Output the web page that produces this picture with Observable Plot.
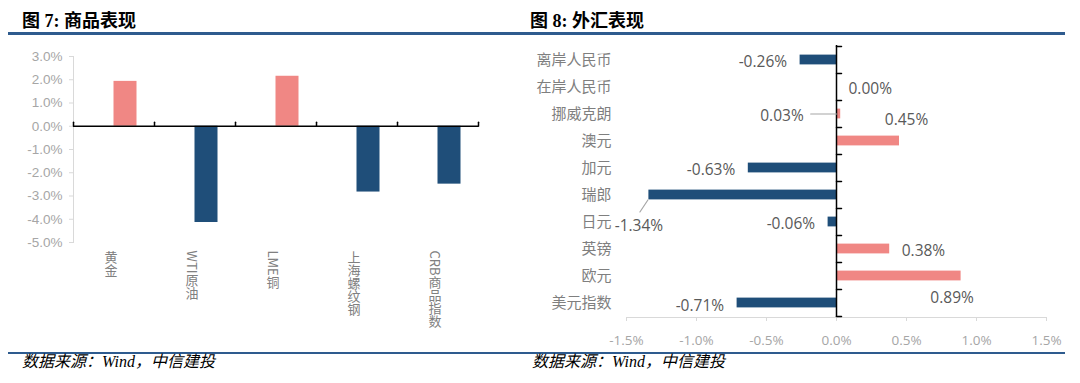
<!DOCTYPE html>
<html><head><meta charset="utf-8">
<script src="https://cdn.jsdelivr.net/npm/d3@7"></script>
<script src="https://cdn.jsdelivr.net/npm/@observablehq/plot@0.6"></script>
<style>
html,body{margin:0;padding:0;background:#fff}
body{width:1080px;height:383px;position:relative;overflow:hidden}
.title{position:absolute;top:12px;font:bold 18px/18px "Liberation Serif","Noto Sans CJK SC";color:#000;white-space:nowrap}
.rule{position:absolute;left:8px;width:1057px;background:#2E5B8E}
.src{position:absolute;top:354px;font:italic 16px/16px "Liberation Serif","Noto Sans CJK SC";color:#000;white-space:nowrap}
.panel{position:absolute;top:40px}
.panel svg{overflow:visible}
</style></head><body>
<div class="title" style="left:22px">图 7: 商品表现</div>
<div class="title" style="left:530px">图 8: 外汇表现</div>
<div class="rule" style="top:32px;height:3px"></div>
<div id="left" class="panel" style="left:0px;width:500px"></div>
<div id="right" class="panel" style="left:520px;width:560px"></div>
<div class="rule" style="top:352px;height:2px"></div>
<div class="src" style="left:22px">数据来源：Wind，中信建投</div>
<div class="src" style="left:532px">数据来源：Wind，中信建投</div>
<script>
// ---- data ----
const commodities = ["黄金", "WTI原油", "LME铜", "上海螺纹钢", "CRB商品指数"];
const commodityChange = [1.93, -4.14, 2.15, -2.83, -2.49];
const commodityTicks = [-5, -4, -3, -2, -1, 0, 1, 2, 3];

const fxNames = ["离岸人民币", "在岸人民币", "挪威克朗", "澳元", "加元", "瑞郎", "日元", "英镑", "欧元", "美元指数"];
const fxChange = [-0.26, 0.00, 0.03, 0.45, -0.63, -1.34, -0.06, 0.38, 0.89, -0.71];
const fxTicks = [-1.5, -1.0, -0.5, 0, 0.5, 1.0, 1.5];

// ---- styles ----
const PINK = "#F08784", BLUE = "#1F4E79";
const colorOf = v => v >= 0 ? PINK : BLUE;
const lineShape = {draw(context, l) { context.moveTo(0, 0); context.lineTo(0, -l); }};

// ---- left chart ----
const cRows = commodities.map((name, i) => ({name, value: commodityChange[i]}));
const L = {width: 500, height: 300, marginLeft: 73, marginRight: 22, marginTop: 16, marginBottom: 98};
const bwL = (L.width - L.marginLeft - L.marginRight) / commodities.length;
const edgeTick = {y: () => 0, length: 4, rotate: 0, anchor: "start", shape: lineShape, stroke: "#000", strokeWidth: 1.5};

const left = Plot.plot({
  ...L,
  x: {type: "band", domain: commodities, padding: 0, axis: null},
  y: {domain: [-5, 3], axis: null},
  color: {type: "identity"},
  marks: [
    Plot.frame({anchor: "left", stroke: "#d9d9d9"}),
    Plot.axisY({ticks: commodityTicks, tickSize: 4, stroke: "#d9d9d9", fill: "none", label: null}),
    Plot.text(commodityTicks, {y: d => d, text: d => d.toFixed(1) + "%", frameAnchor: "left", dx: -11,
      textAnchor: "end", fill: "#a6a6a6", fontSize: 13.5, fontFamily: "Liberation Sans"}),
    Plot.barY(cRows, {x: "name", y: "value", fill: d => colorOf(d.value),
      insetLeft: bwL / 2, insetRight: bwL / 2 - 23}),
    Plot.ruleY([0], {stroke: "#000", strokeWidth: 1.5}),
    Plot.vector(commodities, {x: d => d, dx: -bwL / 2, ...edgeTick}),
    Plot.vector(commodities.slice(-1), {x: d => d, dx: bwL / 2, ...edgeTick}),
    Plot.axisX({tickSize: 0, tickPadding: 8, dx: -3, fill: "#808080", fontSize: 13,
      fontFamily: "Noto Sans CJK SC", label: null})
  ]
});
left.querySelectorAll('[aria-label="x-axis tick label"] text').forEach(t => {
  t.removeAttribute("y"); t.removeAttribute("dy");
  t.setAttribute("text-anchor", "start");
  t.style.writingMode = "vertical-rl";
});
document.getElementById("left").appendChild(left);

// ---- right chart ----
const fRows = fxNames.map((name, i) => ({name, value: fxChange[i]}));
const R = {width: 560, height: 310, marginLeft: 106, marginRight: 34, marginTop: 5, marginBottom: 33};
const bwR = (R.height - R.marginTop - R.marginBottom) / fxNames.length;

// label placement (px offsets from bar end / band centre); leader: [dx, dy, length, angle]
const labelLayout = {
  "离岸人民币": {dx: -13, dy: 2, anchor: "end"},
  "在岸人民币": {dx: 12, dy: 2, anchor: "start"},
  "挪威克朗": {dx: -37, dy: 2, anchor: "end", leader: [-30, 0, 26, 90]},
  "澳元": {dx: 7, dy: -21, anchor: "middle"},
  "加元": {dx: -13, dy: 2, anchor: "end"},
  "瑞郎": {dx: -10, dy: 31, anchor: "middle", leader: [-1, 5, 14.4, 213.7]},
  "日元": {dx: -13, dy: 2.5, anchor: "end"},
  "英镑": {dx: 12, dy: 2.5, anchor: "start"},
  "欧元": {dx: -9, dy: 22, anchor: "middle"},
  "美元指数": {dx: -13, dy: 3, anchor: "end"}
};
const edgeTickR = {x: () => 0, length: 5, rotate: 90, anchor: "start", shape: lineShape, stroke: "#000", strokeWidth: 1.5};

const right = Plot.plot({
  ...R,
  x: {domain: [-1.5, 1.5], axis: null},
  y: {type: "band", domain: fxNames, padding: 0, axis: null},
  color: {type: "identity"},
  marks: [
    Plot.frame({anchor: "bottom", stroke: "#d9d9d9"}),
    Plot.axisX({ticks: fxTicks, tickFormat: d => d.toFixed(1) + "%", tickSize: 4, tickPadding: 14,
      stroke: "#d9d9d9", fill: "#a6a6a6", fontSize: 13.5, fontFamily: "Open Sans", label: null}),
    Plot.axisY({tickSize: 0, tickPadding: 15, fill: "#7f7f7f", fontSize: 15,
      fontFamily: "Noto Sans CJK SC", label: null}),
    Plot.barX(fRows, {x: "value", y: "name", fill: d => colorOf(d.value), insetTop: 8.6, insetBottom: 8.6}),
    Plot.ruleX([0], {stroke: "#000", strokeWidth: 1.5}),
    Plot.vector(fxNames, {y: d => d, dy: -bwR / 2, ...edgeTickR}),
    Plot.vector(fxNames.slice(-1), {y: d => d, dy: bwR / 2, ...edgeTickR}),
    ...fRows.filter(d => labelLayout[d.name].leader).map(d => {
      const [ldx, ldy, len, ang] = labelLayout[d.name].leader;
      return Plot.vector([d], {x: "value", y: "name", dx: ldx, dy: ldy, length: len, rotate: ang,
        anchor: "start", shape: lineShape, stroke: "#a6a6a6", strokeWidth: 1.2});
    }),
    ...fRows.map(d => Plot.text([d], {x: "value", y: "name", text: r => r.value.toFixed(2) + "%",
      dx: labelLayout[d.name].dx, dy: labelLayout[d.name].dy, textAnchor: labelLayout[d.name].anchor,
      fill: "#595959", fontSize: 15.5, fontFamily: "Open Sans"}))
  ]
});
document.getElementById("right").appendChild(right);
</script>
</body></html>
